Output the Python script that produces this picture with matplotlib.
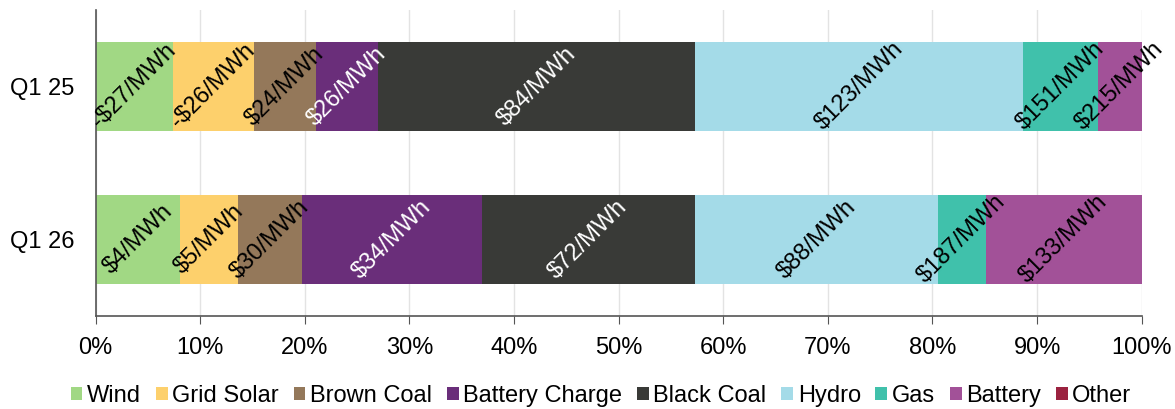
import matplotlib
matplotlib.use("Agg")
import matplotlib.pyplot as plt
from matplotlib.patches import Patch

plt.rcParams['font.family'] = ['Liberation Sans', 'DejaVu Sans']

categories = ["Q1 25", "Q1 26"]
fuels = ["Wind", "Grid Solar", "Brown Coal", "Battery Charge", "Black Coal",
         "Hydro", "Gas", "Battery", "Other"]
colors = ["#a1d884", "#fdd06c", "#94785a", "#6a2e7a", "#393a37",
          "#a4dbe8", "#40c1ab", "#a25198", "#9b2240"]
text_colors = ["black", "black", "black", "white", "white",
               "black", "black", "black", "black"]

# share of each fuel (%) per quarter
wind = [7.41, 8.08]
grid_solar = [7.71, 5.51]
brown_coal = [5.96, 6.12]
battery_charge = [5.89, 17.20]
black_coal = [30.36, 20.39]
hydro = [31.35, 23.20]
gas = [7.11, 4.59]
battery = [4.21, 14.91]
other = [0.0, 0.0]

# price labels ($/MWh)
price_wind = ["-$27/MWh", "$4/MWh"]
price_grid_solar = ["-$26/MWh", "$5/MWh"]
price_brown_coal = ["$24/MWh", "$30/MWh"]
price_battery_charge = ["$26/MWh", "$34/MWh"]
price_black_coal = ["$84/MWh", "$72/MWh"]
price_hydro = ["$123/MWh", "$88/MWh"]
price_gas = ["$151/MWh", "$187/MWh"]
price_battery = ["$215/MWh", "$133/MWh"]
price_other = ["", ""]

series = [wind, grid_solar, brown_coal, battery_charge, black_coal, hydro, gas, battery, other]
prices = [price_wind, price_grid_solar, price_brown_coal, price_battery_charge,
          price_black_coal, price_hydro, price_gas, price_battery, price_other]

FS = 17

fig = plt.figure(figsize=(11.75, 4.09), dpi=100)
ax = fig.add_axes([95.5/1175, 1 - 316/409, (1141.7-95.5)/1175, (316-9.5)/409])

ypos = list(range(len(categories)))
left = [0.0] * len(categories)
for vals, col, tc, labs in zip(series, colors, text_colors, prices):
    ax.barh(ypos, vals, left=left, height=0.58, color=col, zorder=2)
    for i, (v, lab) in enumerate(zip(vals, labs)):
        if v > 0 and lab:
            ax.text(left[i] + v / 2, ypos[i], lab, rotation=45, ha='center', va='center',
                    color=tc, fontsize=FS, zorder=3, rotation_mode='anchor')
    left = [l + v for l, v in zip(left, vals)]

ax.set_xlim(0, 100)
ax.set_ylim(1.5, -0.5)
ax.set_yticks(ypos)
ax.set_yticklabels(categories, fontsize=FS)
ax.set_xticks(range(0, 101, 10))
ax.set_xticklabels([f"{t}%" for t in range(0, 101, 10)], fontsize=FS)
ax.tick_params(axis='y', length=0, pad=15)
ax.tick_params(axis='x', length=6, color='#555555', pad=9)
ax.grid(axis='x', color='#e3e3e3', linewidth=1, zorder=0)
for s in ['top', 'right']:
    ax.spines[s].set_visible(False)
for s in ['left', 'bottom']:
    ax.spines[s].set_color('#555555')
    ax.spines[s].set_linewidth(1.2)

handles = [Patch(facecolor=c, edgecolor='none') for c in colors]
fig.legend(handles, fuels, loc='center', bbox_to_anchor=(601/1175, 1 - 396/409), ncol=9,
           frameon=False, fontsize=FS, handlelength=0.5, handleheight=0.5,
           handletextpad=0.2, columnspacing=0.62, borderpad=0, borderaxespad=0)

fig.savefig("out.png", dpi=100)
